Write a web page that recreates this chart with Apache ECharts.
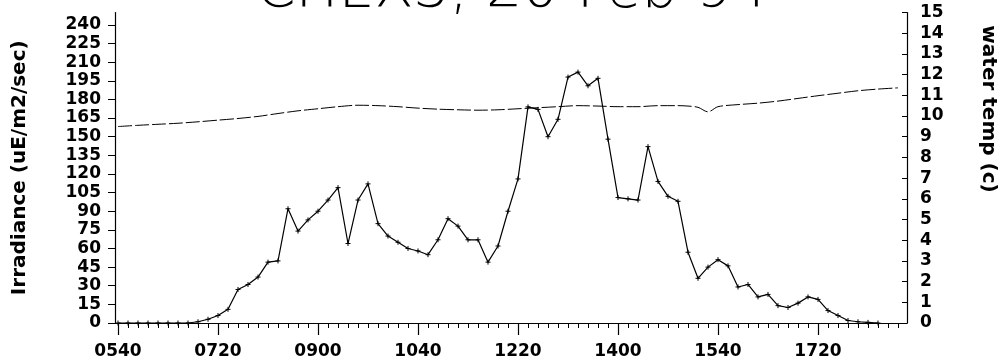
<!DOCTYPE html>
<html>
<head>
<meta charset="utf-8">
<script src="https://cdn.jsdelivr.net/npm/echarts@6/dist/echarts.min.js"></script>
<style>html,body{margin:0;padding:0;background:#fff}#c{width:1000px;height:360px}</style>
</head>
<body>
<div id="c"></div>
<script>
var titleText = 'CHEX3, 20 Feb 94';
var leftName = 'Irradiance (uE/m2/sec)';
var rightName = 'water temp (c)';

var irrTimes = ['0540','0550','0600','0610','0620','0630','0640','0650','0700','0710','0720','0730','0740','0750',
'0800','0810','0820','0830','0840','0850','0900','0910','0920','0930','0940','0950','1000','1010','1020','1030',
'1040','1050','1100','1110','1120','1130','1140','1150','1200','1210','1220','1230','1240','1250','1300','1310',
'1320','1330','1340','1350','1400','1410','1420','1430','1440','1450','1500','1510','1520','1530','1540','1550',
'1600','1610','1620','1630','1640','1650','1700','1710','1720','1730','1740','1750','1800','1810','1820'];
var irrValues = [0,0,0,0,0,0,0,0,1,3,6,11,27,31,
37,49,50,92,74,83,90,99,109,64,99,112,80,70,65,60,
58,55,67,84,78,67,67,49,62,90,116,174,172,150,164,198,
202,191,197,148,101,100,99,142,114,102,98,57,36,45,51,46,
29,31,21,23,14,12.5,16,21,19,10,6,2,1,0.5,0];

var tempTimes = ['0540','0600','0620','0640','0700','0720','0740','0800','0820','0840','0900','0920','0940','1000',
'1020','1040','1100','1120','1140','1200','1220','1240','1300','1320','1340','1400','1420','1440','1500','1510',
'1520','1530','1540','1600','1620','1640','1700','1720','1740','1800','1820','1840'];
var tempValues = [9.49,9.55,9.6,9.65,9.72,9.8,9.88,9.98,10.12,10.25,10.35,10.45,10.52,10.5,
10.45,10.38,10.33,10.3,10.28,10.3,10.35,10.4,10.45,10.5,10.48,10.45,10.45,10.5,10.5,10.48,
10.42,10.2,10.45,10.55,10.62,10.72,10.85,10.98,11.1,11.22,11.3,11.36];

var xLabelTimes = ['0540','0720','0900','1040','1220','1400','1540','1720'];
var xMinorTimes = ['0540','0550','0600','0610','0620','0630','0640','0650','0700','0710','0720','0730','0740','0750',
'0800','0810','0820','0830','0840','0850','0900','0910','0920','0930','0940','0950','1000','1010','1020','1030',
'1040','1050','1100','1110','1120','1130','1140','1150','1200','1210','1220','1230','1240','1250','1300','1310',
'1320','1330','1340','1350','1400','1410','1420','1430','1440','1450','1500','1510','1520','1530','1540','1550',
'1600','1610','1620','1630','1640','1650','1700','1710','1720','1730','1740','1750','1800','1810','1820','1830',
'1840','1850','1900','1910','1920'];
var leftTicks = [0,15,30,45,60,75,90,105,120,135,150,165,180,195,210,225,240];

function toMin(s){ return parseInt(s.slice(0,2),10)*60 + parseInt(s.slice(2),10); }
function toLabel(m){ var h=Math.floor(m/60), mm=Math.round(m%60); return (h<10?'0':'')+h+(mm<10?'0':'')+mm; }

var xMin = 337, xMax = 1129;
var minorVals = xMinorTimes.map(toMin).filter(function(v){return v>=xMin && v<=xMax;});
var labelVals = xLabelTimes.map(toMin);

var irrData = irrTimes.map(function(t,i){ return [toMin(t), irrValues[i]]; });
var tempData = tempTimes.map(function(t,i){ return [toMin(t), tempValues[i]]; });

var lblFont = {color:'#000', fontFamily:'DejaVu Sans', fontWeight:'bold', fontSize:17};
var gridBox = {left:115, right:93, top:12.5, bottom:36, containLabel:false};

var chart = echarts.init(document.getElementById('c'), null, {renderer:'canvas'});
chart.setOption({
  animation:false,
  backgroundColor:'#fff',
  grid:[Object.assign({}, gridBox), Object.assign({}, gridBox)],
  graphic:[
    {type:'text', x:512, y:-36, style:{text:titleText, fill:'#000', font:'200 57px "DejaVu Sans"', align:'center', verticalAlign:'top'}},
    {type:'text', x:988, y:109, rotation:-Math.PI/2, style:{text:rightName, fill:'#000', font:'bold 20px "DejaVu Sans"', align:'center', verticalAlign:'middle'}}
  ],
  xAxis:[
    {type:'value', gridIndex:0, min:xMin, max:xMax, position:'bottom',
     axisLine:{show:true, onZero:false, lineStyle:{color:'#000', width:1.2}},
     axisTick:{show:true, customValues:labelVals, length:12, lineStyle:{color:'#000', width:1.2}},
     axisLabel:Object.assign({customValues:labelVals, margin:20, formatter:function(v){return toLabel(v);}}, lblFont),
     splitLine:{show:false}},
    {type:'value', gridIndex:1, min:xMin, max:xMax, position:'bottom',
     axisLine:{show:false, onZero:false},
     axisTick:{show:true, customValues:minorVals, length:4, lineStyle:{color:'#000', width:1}},
     axisLabel:{show:false}, splitLine:{show:false}}
  ],
  yAxis:[
    {type:'value', gridIndex:0, min:0, max:250, position:'left',
     name:leftName, nameLocation:'middle', nameGap:85, nameRotate:90,
     nameTextStyle:{color:'#000', fontFamily:'DejaVu Sans', fontWeight:'bold', fontSize:20},
     axisLine:{show:true, lineStyle:{color:'#000', width:1.2}},
     axisTick:{show:true, customValues:leftTicks, length:7, lineStyle:{color:'#000'}},
     axisLabel:Object.assign({customValues:leftTicks, margin:14}, lblFont),
     splitLine:{show:false}},
    {type:'value', gridIndex:0, min:0, max:15, interval:1, position:'right',
     axisLine:{show:true, lineStyle:{color:'#000', width:1.2}},
     axisTick:{show:true, inside:true, length:5, lineStyle:{color:'#000'}},
     axisLabel:Object.assign({margin:13}, lblFont),
     splitLine:{show:false}},
    {type:'value', gridIndex:1, min:0, max:1, show:false}
  ],
  series:[
    {name:'Irradiance', type:'line', xAxisIndex:0, yAxisIndex:0, data:irrData,
     symbol:'path://M0,5L10,5M5,0L5,10', symbolSize:5, showSymbol:true,
     itemStyle:{color:'#000', borderColor:'#000', borderWidth:1},
     lineStyle:{color:'#000', width:1.2}},
    {name:'Water temp', type:'line', xAxisIndex:0, yAxisIndex:1, data:tempData,
     symbol:'none', smooth:0.3,
     lineStyle:{color:'#000', width:1, type:[14,3]}}
  ]
});
</script>
</body>
</html>
